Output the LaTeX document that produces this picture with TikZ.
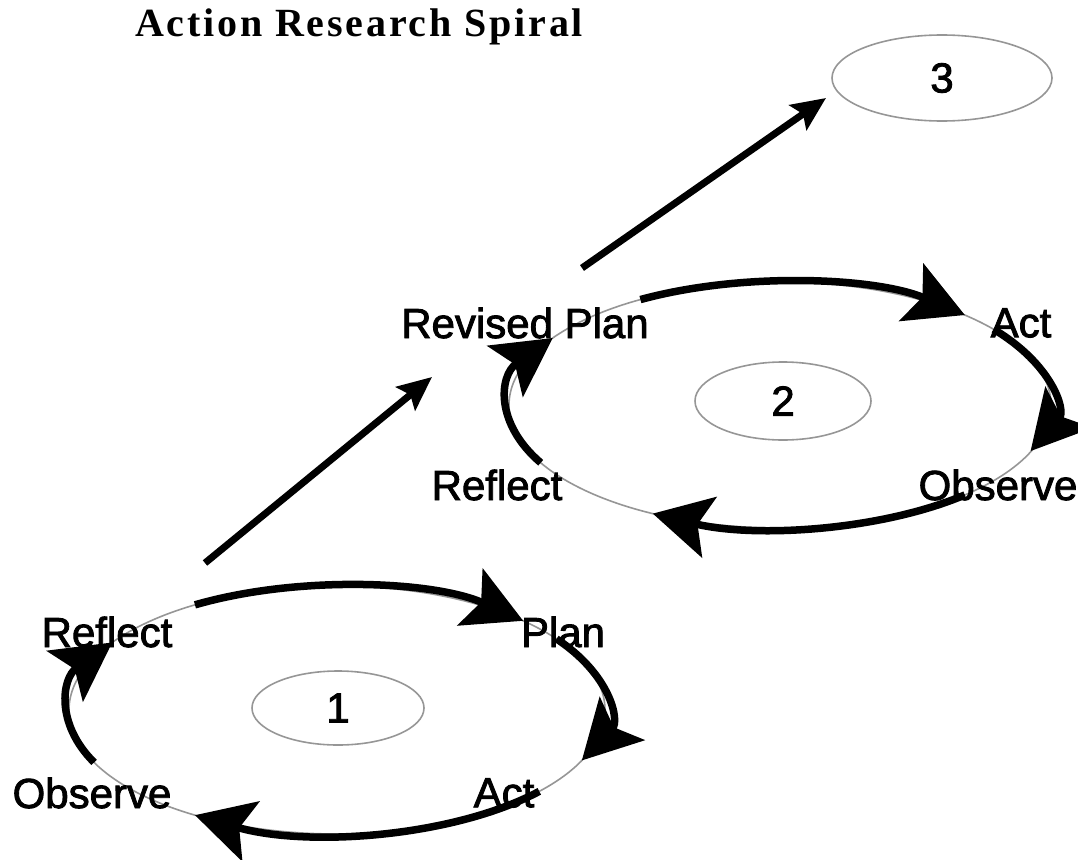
\documentclass[tikz,border=0pt]{standalone}
\usepackage{fontspec}
\setmainfont[FakeBold=2]{Liberation Sans}
\newfontfamily\titlefont[LetterSpace=7]{Liberation Serif}
\usetikzlibrary{arrows.meta,shapes.geometric}
\definecolor{ringgray}{RGB}{150,150,150}
\begin{document}
\begin{tikzpicture}[x=1pt,y=-1pt,
  lbl/.style={font=\fontsize{42}{48}\selectfont, inner sep=0pt},
  ring/.style={draw=ringgray, line width=1.6pt, ellipse, inner sep=0pt},
  numring/.style={ring, font=\fontsize{42}{48}\selectfont},
  cyc/.style={line width=7.5pt, -{Stealth[length=58pt,width=62pt,inset=12pt]}},
  leap/.style={line width=7pt, -{Stealth[length=34pt,width=30pt,inset=6pt]}}]
\useasboundingbox (0,0) rectangle (1078,859);
% title
\node[font={\titlefont\bfseries\fontsize{40}{46}\selectfont}, inner sep=0pt] (title) at (359,27) {Action Research Spiral};
% cycle 1
\node[ring, minimum width=536pt, minimum height=248pt] (E1) at (337,710) {};
\node[numring, minimum width=172pt, minimum height=74pt] (n1) at (338,708) {1};
\node[lbl] (r1) at (107,632) {Reflect};
\node[lbl] (p1) at (563,632) {Plan};
\node[lbl] (o1) at (92,793) {Observe};
\node[lbl] (a1) at (504,793) {Act};
\draw[cyc] (E1.center) ++(-122:268 and 124) arc[start angle=-122, end angle=-46, x radius=268, y radius=124];
\draw[cyc] (E1.center) ++(-35:268 and 124) arc[start angle=-35, end angle=24, x radius=268, y radius=124];
\draw[cyc] (E1.center) ++(41:268 and 124) arc[start angle=41, end angle=122, x radius=268, y radius=124];
\draw[cyc] (E1.center) ++(155:268 and 124) arc[start angle=155, end angle=213, x radius=268, y radius=124];
% cycle 2
\node[ring, minimum width=542pt, minimum height=246pt] (E2) at (780,405) {};
\node[numring, minimum width=176pt, minimum height=78pt] (n2) at (783,401) {2};
\node[lbl] (p2) at (525,323) {Revised Plan};
\node[lbl] (a2) at (1021,323) {Act};
\node[lbl] (r2) at (497,485) {Reflect};
\node[lbl] (o2) at (998,485) {Observe};
\draw[cyc] (E2.center) ++(-121:271 and 123) arc[start angle=-121, end angle=-47, x radius=271, y radius=123];
\draw[cyc] (E2.center) ++(-38:271 and 123) arc[start angle=-38, end angle=22, x radius=266, y radius=123];
\draw[cyc] (E2.center) ++(47:271 and 123) arc[start angle=47, end angle=118, x radius=271, y radius=123];
\draw[cyc] (E2.center) ++(152:271 and 123) arc[start angle=152, end angle=213, x radius=271, y radius=123];
% cycle 3
\node[numring, minimum width=220pt, minimum height=86pt] (n3) at (942,78) {3};
% leaps
\coordinate (s1) at (205,563);
\coordinate (t1) at (432,377);
\coordinate (s2) at (582,268);
\coordinate (t2) at (826,98);
\draw[leap] (s1) -- (t1);
\draw[leap] (s2) -- (t2);
\end{tikzpicture}
\end{document}
